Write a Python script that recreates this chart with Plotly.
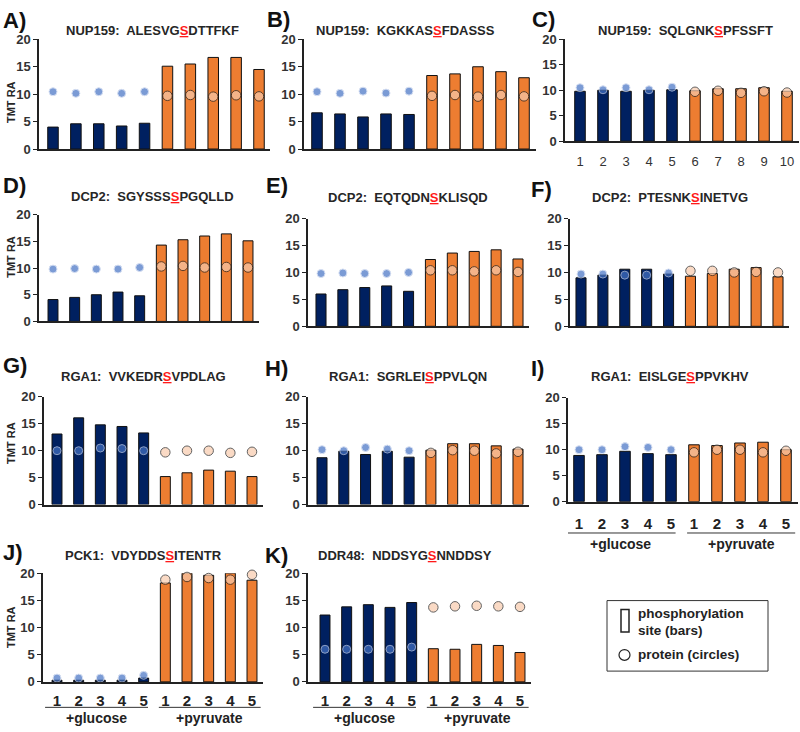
import plotly.graph_objects as go

# ---------------- data ----------------
SAMPLES = list(range(1, 11))          # 1-5 = +glucose, 6-10 = +pyruvate
C_TICKS = [str(s) for s in SAMPLES]
GROUP_TICKS = ['1', '2', '3', '4', '5', '1', '2', '3', '4', '5']
GROUPS = ['+glucose', '+pyruvate']

PANELS = ['A', 'B', 'C', 'D', 'E', 'F', 'G', 'H', 'I', 'J', 'K']
PROTEINS = ['NUP159', 'NUP159', 'NUP159', 'DCP2', 'DCP2', 'DCP2',
            'RGA1', 'RGA1', 'RGA1', 'PCK1', 'DDR48']
SEQ_BEFORE = ['ALESVG', 'KGKKAS', 'SQLGNK', 'SGYSSS', 'EQTQDN', 'PTESNK',
              'VVKEDR', 'SGRLEI', 'EISLGE', 'VDYDDS', 'NDDSYG']
SITE_RESIDUE = 'S'
SEQ_AFTER = ['DTTFKF', 'FDASSS', 'PFSSFT', 'PGQLLD', 'KLISQD', 'INETVG',
             'VPDLAG', 'PPVLQN', 'PPVKHV', 'ITENTR', 'NNDDSY']

# phosphorylation site (bars) and protein (circles), TMT relative abundance
A_site = [4.0, 4.6, 4.6, 4.2, 4.7, 15.1, 15.5, 16.7, 16.7, 14.5]
A_protein = [10.45, 10.15, 10.45, 10.15, 10.45, 9.7, 9.85, 9.55, 9.8, 9.6]
B_site = [6.6, 6.4, 5.85, 6.4, 6.3, 13.4, 13.7, 15.0, 14.1, 13.0]
B_protein = [10.45, 10.15, 10.55, 10.2, 10.55, 9.7, 9.85, 9.55, 9.85, 9.6]
C_site = [9.8, 10.0, 9.8, 10.0, 10.1, 9.9, 10.3, 10.3, 10.5, 9.8]
C_protein = [10.5, 10.1, 10.5, 10.1, 10.6, 9.7, 9.9, 9.5, 9.8, 9.55]
D_site = [4.1, 4.5, 5.0, 5.5, 4.8, 14.3, 15.3, 16.0, 16.4, 15.1]
D_protein = [9.8, 9.9, 9.8, 9.8, 10.1, 10.3, 10.4, 10.1, 10.2, 10.1]
E_site = [6.0, 6.8, 7.2, 7.5, 6.5, 12.4, 13.6, 13.9, 14.2, 12.5]
E_protein = [9.8, 9.9, 9.8, 9.8, 10.0, 10.4, 10.4, 10.2, 10.4, 10.1]
F_site = [9.0, 9.5, 10.6, 10.6, 9.7, 9.3, 9.8, 10.6, 10.9, 9.2]
F_protein = [9.7, 9.7, 9.5, 9.5, 9.9, 10.3, 10.3, 10.0, 10.1, 10.0]
G_site = [13.1, 16.1, 14.8, 14.5, 13.3, 5.2, 5.9, 6.4, 6.2, 5.2]
G_protein = [10.0, 10.0, 10.5, 10.4, 10.0, 9.7, 10.0, 10.0, 9.6, 9.8]
H_site = [8.7, 9.9, 9.3, 9.9, 8.8, 10.1, 11.3, 11.3, 10.9, 10.3]
H_protein = [10.2, 10.0, 10.6, 10.3, 10.0, 9.6, 10.1, 10.0, 9.5, 9.8]
I_site = [8.9, 9.05, 9.7, 9.25, 9.05, 10.95, 10.8, 11.3, 11.45, 10.0]
I_protein = [10.0, 10.0, 10.6, 10.45, 10.0, 9.5, 10.0, 10.0, 9.5, 9.8]
J_site = [0.3, 0.3, 0.3, 0.3, 0.7, 18.2, 20.0, 19.6, 20.0, 18.7]
J_protein = [0.7, 0.7, 0.7, 0.7, 1.2, 18.8, 19.3, 19.1, 18.8, 19.7]
K_site = [12.3, 13.8, 14.2, 13.7, 14.6, 6.1, 6.0, 6.9, 6.7, 5.4]
K_protein = [6.0, 6.0, 6.0, 6.0, 6.4, 13.7, 13.9, 14.0, 13.9, 13.8]

SITE = [A_site, B_site, C_site, D_site, E_site, F_site, G_site, H_site, I_site, J_site, K_site]
PROT = [A_protein, B_protein, C_protein, D_protein, E_protein, F_protein,
        G_protein, H_protein, I_protein, J_protein, K_protein]

Y_TICKS = [0, 5, 10, 15, 20]

# ---------------- layout geometry (pixels) ----------------
W, H = 800, 732
# y-axis x, centre of sample 1, centre of sample 10, y of 20, y of 0
GEOM = {
    'A': (39, 53, 259, 33, 145),
    'B': (304, 317, 524, 33, 145),
    'C': (565, 580, 787, 33, 137),
    'D': (39, 53, 248, 212, 321),
    'E': (308, 321, 518, 216, 326),
    'F': (570, 581, 778, 216, 326),
    'G': (44, 57, 252, 398, 508),
    'H': (308, 322, 518, 398, 508),
    'I': (568, 579, 786, 399, 505),
    'J': (43, 57, 252, 578, 689),
    'K': (308, 325, 520, 578, 689),
}
LETTER_POS = {'A': (1, 14), 'B': (265, 13), 'C': (530, 13), 'D': (1, 182), 'E': (264, 182),
              'F': (529, 186), 'G': (1, 366), 'H': (263, 369), 'I': (529, 369),
              'J': (1, 557), 'K': (263, 560)}
TITLE_POS = {'A': (152, 24), 'B': (406, 24), 'C': (685, 24), 'D': (152, 193), 'E': (408, 194),
             'F': (670, 194), 'G': (143, 377), 'H': (408, 377), 'I': (670, 377),
             'J': (143, 560), 'K': (405, 560)}
YTITLE_POS = {'A': 97, 'D': 255, 'G': 445, 'J': 633}
TICK_STANDOFF = {'I': 8, 'J': 4, 'K': 4}

NAVY, ORANGE = '#002060', '#ED7D31'
BLUE, PEACH = '#4472C4', '#F8CBAD'
FONT = 'Liberation Sans, Arial, sans-serif'


def fx(px):
    return px / W


def fy(py):
    return 1 - py / H


fig = go.Figure()
annotations, shapes = [], []
layout = {}

for i, p in enumerate(PANELS):
    ax, c1, c10, y20, y0 = GEOM[p]
    sp = (c10 - c1) / 9
    x_end = min(c10 + 0.5 * sp, W - 1)
    xr = [1 - (c1 - ax) / sp, 10 + (x_end - c10) / sp]
    suffix = '' if i == 0 else str(i + 1)
    xa, ya = 'x' + suffix, 'y' + suffix

    bar_colors = [NAVY] * 5 + [ORANGE] * 5
    fig.add_trace(go.Bar(
        x=SAMPLES, y=SITE[i], xaxis=xa, yaxis=ya, width=0.46,
        marker=dict(color=bar_colors, line=dict(color='#111111', width=1)),
        showlegend=False, hoverinfo='skip'))
    fig.add_trace(go.Scatter(
        x=SAMPLES, y=PROT[i], xaxis=xa, yaxis=ya, mode='markers',
        marker=dict(size=[8] * 5 + [9.5] * 5, color=[BLUE] * 5 + [PEACH] * 5,
                    line=dict(color=['#c8d4ee'] * 5 + ['#222222'] * 5, width=1)),
        showlegend=False, hoverinfo='skip', cliponaxis=False))

    xaxis = dict(domain=[fx(ax), fx(x_end)], range=xr, anchor=ya,
                 showline=True, linecolor='#222222', linewidth=1.5,
                 showgrid=False, zeroline=False, ticks='', fixedrange=True)
    if p == 'C':
        xaxis.update(tickmode='array', tickvals=SAMPLES, ticktext=C_TICKS,
                     tickfont=dict(family=FONT, size=13, color='#333333'),
                     ticklabelstandoff=7)
    elif p in TICK_STANDOFF:
        xaxis.update(tickmode='array', tickvals=SAMPLES, ticktext=GROUP_TICKS,
                     tickfont=dict(family=FONT, size=15, color='#222222', weight='bold'),
                     ticklabelstandoff=TICK_STANDOFF[p])
    else:
        xaxis.update(showticklabels=False)
    yaxis = dict(domain=[fy(y0), fy(y20)], range=[0, 20], anchor=xa,
                 tickmode='array', tickvals=Y_TICKS,
                 showline=True, linecolor='#222222', linewidth=1.5,
                 ticks='outside', ticklen=4, tickwidth=1.2, tickcolor='#222222',
                 tickfont=dict(family=FONT, size=13, color='#333333', weight='bold'),
                 showgrid=False, zeroline=False, fixedrange=True)
    layout['xaxis' + suffix] = xaxis
    layout['yaxis' + suffix] = yaxis

    # panel letter
    lx, ly = LETTER_POS[p]
    annotations.append(dict(text=f'<b>{p})</b>', x=fx(lx), y=fy(ly), xref='paper', yref='paper',
                            xanchor='left', yanchor='middle', showarrow=False,
                            font=dict(family=FONT, size=22, color='#111111')))
    # title
    tx, ty = TITLE_POS[p]
    title = (f'{PROTEINS[i]}:  {SEQ_BEFORE[i]}'
             f'<span style="color:#ff1a1a;text-decoration:underline">{SITE_RESIDUE}</span>'
             f'{SEQ_AFTER[i]}')
    annotations.append(dict(text=title, x=fx(tx), y=fy(ty), xref='paper', yref='paper',
                            xanchor='center', yanchor='middle', showarrow=False,
                            font=dict(family=FONT, size=13, color='#262626', weight='bold')))
    if p in YTITLE_POS:
        annotations.append(dict(text='TMT RA', x=fx(11), y=fy(YTITLE_POS[p]), xref='paper',
                                yref='paper', textangle=-90, showarrow=False,
                                xanchor='center', yanchor='middle',
                                font=dict(family=FONT, size=11, color='#262626', weight='bold')))
    if p in TICK_STANDOFF:
        line_y = y0 + 26 if p != 'I' else y0 + 32
        text_y = line_y + 11
        for (a, b), g in zip(((0.45, 5.2), (5.7, 10.4)), GROUPS):
            shapes.append(dict(type='line', xref=xa, yref='paper', x0=a, x1=b,
                               y0=fy(line_y), y1=fy(line_y),
                               line=dict(color='#333333', width=1)))
            annotations.append(dict(text=g, x=(a + b) / 2, y=fy(text_y), xref=xa, yref='paper',
                                    xanchor='center', yanchor='middle', showarrow=False,
                                    font=dict(family=FONT, size=14, color='#222222',
                                              weight='bold')))

# legend box
shapes.append(dict(type='rect', xref='paper', yref='paper', x0=fx(607), x1=fx(768),
                   y0=fy(678), y1=fy(606), line=dict(color='#333333', width=1)))
shapes.append(dict(type='rect', xref='paper', yref='paper', x0=fx(621), x1=fx(629),
                   y0=fy(638), y1=fy(615), line=dict(color='#222222', width=1.5)))
shapes.append(dict(type='circle', xref='paper', yref='paper', x0=fx(619), x1=fx(630),
                   y0=fy(667), y1=fy(656), line=dict(color='#222222', width=1.2)))
for txt, yy in (('phosphorylation', 619), ('site (bars)', 637), ('protein (circles)', 661)):
    annotations.append(dict(text=txt, x=fx(636), y=fy(yy), xref='paper', yref='paper',
                            xanchor='left', yanchor='middle', showarrow=False,
                            font=dict(family=FONT, size=13.5, color='#222222', weight='bold')))

fig.update_layout(width=W, height=H, margin=dict(l=0, r=0, t=0, b=0),
                  paper_bgcolor='white', plot_bgcolor='white',
                  annotations=annotations, shapes=shapes, showlegend=False,
                  bargap=0.5, **layout)

fig.write_html('out.html', config={'displayModeBar': False},
               post_script="document.body.style.margin='0px';"
                           "document.body.style.overflow='hidden';")
